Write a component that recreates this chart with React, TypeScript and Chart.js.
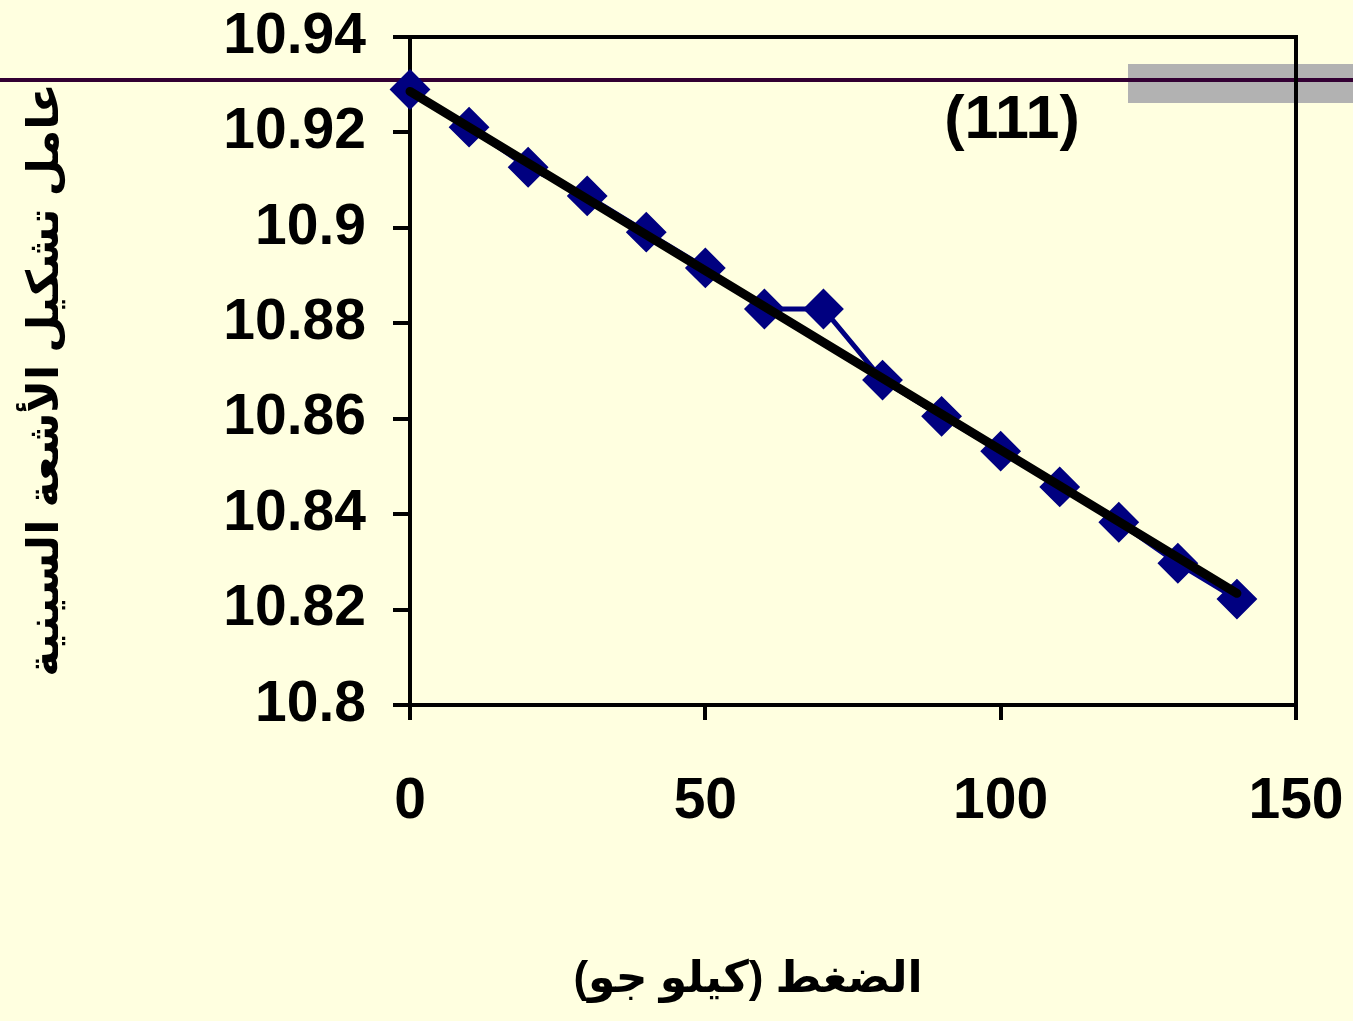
import React, { useEffect, useRef } from "react";
import { Chart, registerables } from "chart.js";

Chart.register(...registerables);

// ---- data ----
const pressure = [0, 10, 20, 30, 40, 50, 60, 70, 80, 90, 100, 110, 120, 130, 140];
const latticeConst = [
  10.929, 10.9211, 10.9127, 10.9067, 10.8991, 10.8916, 10.883, 10.883, 10.8681,
  10.8605, 10.8532, 10.8457, 10.8383, 10.8297, 10.8222,
];
const trendX = [0, 140];
const trendY = [10.9286, 10.8234];
const yTickMin = 10.8;
const yTickMax = 10.94;
const yTickStep = 0.02;
const xTickMin = 0;
const xTickMax = 150;
const xTickStep = 50;
const xTitle = "الضغط (كيلو جو)";
const yTitle = "عامل تشكيل الأشعة السينية";
const annotationText = "(111)";

const BG = "#FFFFE0";
const NUM_FONT = '"Liberation Sans", Arial, sans-serif';
const AR_FONT = '"Liberation Sans", "DejaVu Sans", sans-serif';

function zeroPad(scale: any) {
  scale.paddingTop = 0;
  scale.paddingBottom = 0;
  scale.paddingLeft = 0;
  scale.paddingRight = 0;
}

export default function App() {
  const ref = useRef<HTMLCanvasElement | null>(null);

  useEffect(() => {
    if (!ref.current) return;
    const deco = {
      id: "deco",
      beforeDraw(chart: any) {
        const ctx = chart.ctx;
        ctx.save();
        ctx.fillStyle = BG;
        ctx.fillRect(0, 0, chart.width, chart.height);
        ctx.fillStyle = "#B2B2B2";
        ctx.fillRect(1128, 64, chart.width - 1128, 39);
        ctx.strokeStyle = "#330033";
        ctx.lineWidth = 4;
        ctx.beginPath();
        ctx.moveTo(0, 80);
        ctx.lineTo(chart.width, 80);
        ctx.stroke();
        ctx.restore();
      },
      beforeDatasetsDraw(chart: any) {
        const ctx = chart.ctx;
        const a = chart.chartArea;
        ctx.save();
        ctx.strokeStyle = "#000";
        ctx.lineWidth = 4;
        ctx.beginPath();
        ctx.moveTo(a.left, a.top);
        ctx.lineTo(a.right, a.top);
        ctx.lineTo(a.right, a.bottom);
        ctx.stroke();
        ctx.restore();
      },
      afterDraw(chart: any) {
        const ctx = chart.ctx;
        ctx.save();
        ctx.fillStyle = "#000";
        ctx.font = `bold 61px ${NUM_FONT}`;
        ctx.textAlign = "center";
        ctx.textBaseline = "middle";
        ctx.fillText(annotationText, 1012, 121);

        ctx.direction = "rtl";
        ctx.font = `bold 44px ${AR_FONT}`;
        ctx.fillText(xTitle, 748, 980);

        ctx.translate(46, 380);
        ctx.rotate(-Math.PI / 2);
        ctx.fillText(yTitle, 0, 0);
        ctx.restore();
      },
    };

    const chart = new Chart(ref.current, {
      type: "line",
      data: {
        datasets: [
          {
            label: "trend",
            data: trendX.map((x, i) => ({ x, y: trendY[i] })),
            borderColor: "#000",
            borderWidth: 9,
            borderCapStyle: "round",
            pointRadius: 0,
            fill: false,
            clip: false,
          } as any,
          {
            label: "data",
            data: pressure.map((x, i) => ({ x, y: latticeConst[i] })),
            borderColor: "#000080",
            borderWidth: 5,
            pointStyle: "rectRot",
            pointRadius: 19,
            pointBackgroundColor: "#000080",
            pointBorderColor: "#000080",
            pointBorderWidth: 2,
            fill: false,
            clip: false,
          } as any,
        ],
      },
      options: {
        animation: false,
        responsive: false,
        events: [],
        layout: { padding: { left: 0, top: 37, right: 57, bottom: 0 } },
        plugins: {
          legend: { display: false },
          tooltip: { enabled: false },
        },
        scales: {
          x: {
            type: "linear",
            min: xTickMin,
            max: xTickMax,
            afterFit(scale: any) {
              scale.height = 316;
              zeroPad(scale);
            },
            ticks: {
              stepSize: xTickStep,
              color: "#000",
              padding: 48,
              maxRotation: 0,
              font: { family: NUM_FONT, size: 57, weight: "bold" },
            },
            grid: {
              display: true,
              drawOnChartArea: false,
              drawTicks: true,
              tickLength: 15,
              color: "#000",
              lineWidth: 4,
            },
            border: { display: true, color: "#000", width: 4 },
          },
          y: {
            type: "linear",
            min: yTickMin,
            max: yTickMax,
            afterFit(scale: any) {
              scale.width = 410;
              zeroPad(scale);
            },
            ticks: {
              stepSize: yTickStep,
              color: "#000",
              padding: 27,
              font: { family: NUM_FONT, size: 57, weight: "bold" },
              callback: (v: any) => String(Number(Number(v).toFixed(2))),
            },
            grid: {
              display: true,
              drawOnChartArea: false,
              drawTicks: true,
              tickLength: 17,
              color: "#000",
              lineWidth: 4,
            },
            border: { display: true, color: "#000", width: 4 },
          },
        },
      } as any,
      plugins: [deco],
    });
    return () => chart.destroy();
  }, []);

  return (
    <div style={{ position: "fixed", left: 0, top: 0, width: 1353, height: 1021, background: BG }}>
      <canvas ref={ref} width={1353} height={1021} style={{ display: "block" }} />
    </div>
  );
}
